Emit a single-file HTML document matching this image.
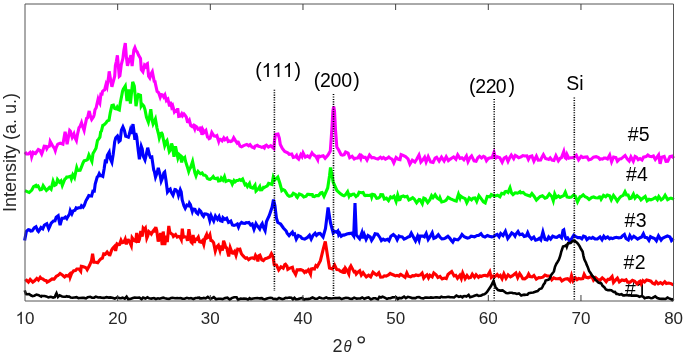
<!DOCTYPE html>
<html><head><meta charset="utf-8"><style>
html,body{margin:0;padding:0;background:#fff;}
body{width:685px;height:354px;overflow:hidden;}
svg{display:block;}
text{font-family:"Liberation Sans",sans-serif;}
svg{will-change:transform;}
</style></head><body>
<svg width="685" height="354" viewBox="0 0 685 354">
<rect width="685" height="354" fill="#fff"/>
<g font-size="19.5" fill="#000">
<path transform="translate(261.60,77.10) scale(0.009521,-0.009521)" d="M763 0H583V1147Q518 1085 412.5 1023Q307 961 223 930V1104Q374 1175 487 1276Q600 1377 647 1472H763Z" fill="#000"/>
<path transform="translate(272.10,77.10) scale(0.009521,-0.009521)" d="M763 0H583V1147Q518 1085 412.5 1023Q307 961 223 930V1104Q374 1175 487 1276Q600 1377 647 1472H763Z" fill="#000"/>
<path transform="translate(282.70,77.10) scale(0.009521,-0.009521)" d="M763 0H583V1147Q518 1085 412.5 1023Q307 961 223 930V1104Q374 1175 487 1276Q600 1377 647 1472H763Z" fill="#000"/>
<text x="255.30 294.60" y="77.1">()</text>
<text x="313.70 320.10 330.50 341.20 353.30" y="86.6">(200)</text>
<text x="468.90 475.30 485.70 495.80 508.60" y="93.3">(220)</text>
<text x="566.30 579.30" y="90.0">Si</text>
<text x="627.70 638.70" y="140.7">#5</text>
<text x="625.90 637.10" y="181.3">#4</text>
<text x="624.40 635.70" y="227.3">#3</text>
<text x="623.50 634.80" y="268.7">#2</text>
<path transform="translate(635.70,295.00) scale(0.009521,-0.009521)" d="M763 0H583V1147Q518 1085 412.5 1023Q307 961 223 930V1104Q374 1175 487 1276Q600 1377 647 1472H763Z" fill="#000"/>
<text x="624.90" y="295.0">#</text>
</g>
<path d="M25.0,152.0 L26.4,154.0 L28.3,153.9 L30.3,152.2 L31.0,153.1 L31.7,156.8 L33.2,152.3 L35.5,153.5 L36.9,151.5 L38.3,149.6 L40.0,150.5 L41.7,154.0 L42.6,151.5 L44.2,146.3 L46.0,146.5 L46.8,148.7 L47.9,146.8 L49.4,146.2 L50.2,141.4 L52.7,146.0 L54.4,148.2 L55.3,150.7 L56.2,147.6 L57.8,144.2 L60.3,143.1 L62.0,143.9 L62.9,144.2 L65.1,131.7 L66.2,137.5 L67.1,144.2 L69.7,130.4 L70.3,131.0 L72.2,137.3 L73.9,133.9 L74.7,137.1 L76.4,140.5 L77.4,134.7 L79.0,127.8 L80.0,126.5 L81.5,122.7 L82.3,125.6 L84.1,130.4 L84.8,126.6 L86.6,118.4 L87.5,118.0 L88.4,114.2 L89.2,111.0 L90.6,116.7 L91.7,119.5 L93.5,116.9 L94.2,114.6 L95.0,109.8 L96.2,107.7 L96.8,104.9 L98.1,99.2 L98.9,101.5 L99.8,103.2 L101.1,92.6 L101.8,95.4 L102.5,91.5 L103.5,90.5 L104.6,89.9 L106.0,84.5 L107.0,87.0 L108.5,77.6 L109.2,71.3 L110.6,79.8 L111.9,86.8 L112.6,84.1 L114.7,76.2 L115.4,65.6 L116.4,61.3 L117.4,55.3 L119.3,76.3 L119.9,75.8 L121.3,64.6 L122.0,61.8 L122.9,58.4 L123.8,50.7 L125.3,43.0 L126.4,57.3 L127.5,65.9 L128.3,62.9 L129.5,58.7 L130.3,57.5 L130.9,55.2 L132.1,66.2 L133.8,50.2 L134.9,47.6 L136.0,50.6 L137.2,51.9 L138.5,55.0 L140.5,58.5 L141.3,69.6 L142.9,71.7 L144.5,65.3 L145.6,66.6 L146.8,64.1 L147.4,63.7 L148.6,76.2 L149.8,78.0 L151.3,73.3 L152.3,71.6 L154.2,81.2 L155.0,81.4 L155.6,84.7 L157.1,91.4 L158.7,92.7 L160.2,97.2 L161.2,94.6 L162.4,94.8 L163.7,97.0 L164.9,95.0 L166.4,100.5 L167.9,99.1 L169.6,106.4 L170.5,101.9 L171.7,107.1 L172.7,105.6 L173.4,108.1 L174.4,111.9 L175.4,110.7 L177.1,111.4 L177.7,108.3 L178.7,116.3 L180.3,116.0 L181.7,113.8 L182.6,115.7 L184.0,113.9 L185.0,115.1 L186.3,117.2 L187.4,121.7 L188.1,121.8 L189.3,120.1 L190.7,125.5 L192.1,126.5 L193.3,125.5 L194.7,128.9 L195.4,126.1 L196.9,127.1 L198.0,129.2 L199.2,128.9 L200.0,130.1 L200.9,126.7 L201.9,134.9 L202.8,129.6 L204.2,132.3 L205.9,130.4 L207.5,137.0 L208.3,137.2 L209.1,138.7 L210.1,138.2 L211.8,132.5 L213.9,135.8 L215.9,136.3 L216.9,135.7 L218.7,141.3 L219.4,139.1 L220.3,139.2 L222.1,140.9 L223.8,138.0 L224.9,139.8 L226.9,138.2 L228.2,141.5 L229.4,141.0 L230.8,141.5 L232.2,140.9 L233.7,137.7 L235.3,140.4 L237.0,142.9 L237.7,142.0 L238.3,142.1 L240.0,146.1 L241.5,146.8 L243.2,145.8 L244.8,145.1 L246.8,144.5 L248.7,145.8 L250.1,144.7 L251.9,146.9 L254.2,148.0 L255.1,146.1 L257.3,145.2 L258.5,146.2 L259.7,146.4 L261.8,147.4 L263.0,146.9 L264.3,148.0 L265.2,145.8 L266.4,145.1 L268.4,147.0 L270.7,145.7 L272.0,146.9 L273.8,148.5 L274.6,140.0 L275.4,134.5 L278.0,134.0 L279.3,138.0 L280.3,144.5 L282.3,148.5 L284.7,151.5 L287.7,152.7 L289.2,154.4 L291.7,153.9 L293.3,157.4 L295.2,156.9 L296.5,155.4 L297.3,157.9 L298.7,159.2 L300.8,154.7 L302.0,156.6 L303.1,152.9 L305.3,157.1 L307.5,155.9 L309.6,157.5 L312.0,152.9 L313.0,154.3 L315.9,156.5 L317.7,159.8 L318.5,155.1 L319.2,157.2 L321.3,156.2 L323.2,155.8 L324.0,156.9 L325.1,158.3 L328.0,155.0 L330.3,151.0 L331.8,130.0 L332.9,111.0 L333.7,106.5 L334.5,111.0 L335.5,130.0 L336.8,147.0 L338.7,150.0 L341.1,154.8 L342.4,155.2 L344.2,154.6 L345.6,152.1 L348.1,153.2 L349.7,157.7 L352.1,156.2 L354.2,158.9 L355.2,158.3 L357.6,158.0 L359.3,155.6 L360.7,158.5 L361.5,155.5 L363.6,157.4 L365.3,157.3 L367.0,160.1 L369.5,155.0 L371.8,157.8 L373.7,157.5 L375.4,158.4 L377.9,159.0 L380.4,157.2 L381.9,158.6 L383.5,157.5 L385.4,159.2 L387.4,158.1 L388.8,157.0 L390.3,158.3 L392.0,159.1 L393.8,162.9 L396.1,157.5 L398.3,159.2 L400.0,159.6 L401.1,154.6 L403.1,155.4 L405.5,156.6 L408.0,158.9 L409.9,164.1 L412.3,160.2 L414.9,162.0 L416.7,159.3 L419.0,155.1 L420.0,158.4 L420.9,162.0 L422.5,160.3 L424.6,157.3 L426.1,162.0 L428.2,156.7 L430.6,161.9 L433.1,162.4 L435.1,158.0 L436.6,157.2 L439.1,161.0 L441.5,157.1 L444.1,160.9 L446.2,156.7 L448.4,160.6 L450.3,159.1 L451.9,158.0 L453.6,157.0 L455.9,159.2 L457.7,154.9 L460.0,158.4 L461.9,157.7 L463.9,159.8 L466.4,155.9 L468.0,161.7 L470.0,157.6 L471.6,155.9 L474.1,160.9 L476.1,161.3 L477.9,157.6 L479.5,156.2 L481.6,157.9 L483.5,156.4 L485.0,157.1 L486.5,160.8 L488.4,158.4 L490.4,157.8 L492.0,157.7 L494.0,152.5 L494.9,155.7 L496.0,157.8 L497.3,156.7 L499.8,157.7 L502.2,162.2 L504.1,158.2 L506.1,157.0 L508.0,161.4 L509.9,157.3 L511.3,155.1 L513.7,158.6 L515.3,155.4 L516.8,156.2 L518.7,157.8 L521.0,156.9 L522.9,155.6 L524.7,156.0 L526.9,155.9 L528.4,159.4 L530.0,156.5 L531.9,155.9 L533.9,161.2 L536.4,156.1 L538.2,160.2 L540.6,160.0 L542.0,157.1 L543.4,154.6 L545.5,158.4 L547.2,158.9 L548.7,159.5 L550.2,157.8 L552.0,160.1 L553.9,160.5 L555.9,155.7 L558.4,160.7 L560.2,158.3 L561.5,157.6 L563.8,151.4 L565.2,157.8 L566.0,158.4 L567.0,154.5 L568.8,158.2 L570.7,157.8 L572.1,157.8 L574.2,157.1 L576.3,155.3 L578.6,159.9 L581.2,156.4 L583.0,157.6 L585.2,157.1 L587.1,156.9 L588.8,159.9 L591.2,159.2 L593.5,157.2 L596.1,156.7 L598.5,157.6 L600.0,159.3 L601.0,158.8 L602.5,159.1 L603.9,158.0 L605.6,158.1 L607.5,159.0 L609.7,155.0 L611.6,161.8 L613.6,157.0 L615.9,157.5 L617.4,161.3 L619.6,159.0 L621.1,158.7 L622.8,157.4 L625.1,155.5 L627.3,159.0 L629.2,161.0 L630.9,156.8 L633.3,161.3 L635.1,156.4 L636.5,157.1 L638.2,159.6 L640.0,158.6 L642.0,160.0 L643.5,157.2 L646.1,156.6 L647.8,155.0 L649.5,156.3 L651.6,156.6 L653.4,155.9 L655.3,159.4 L656.8,157.5 L658.6,154.9 L660.1,163.8 L661.7,157.2 L664.2,156.4 L666.0,161.4 L667.7,161.2 L669.9,156.7 L672.4,156.1 L673.5,158.3" fill="none" stroke="#ff00ff" stroke-width="3.1" stroke-linejoin="miter" stroke-miterlimit="4"/>
<path d="M25.0,190.8 L26.7,191.4 L28.3,192.1 L29.2,192.5 L31.8,190.0 L33.6,186.6 L35.9,185.4 L36.5,186.5 L38.0,186.0 L40.1,189.8 L41.4,189.6 L42.0,189.1 L43.2,185.7 L45.1,188.6 L46.4,190.5 L48.1,188.9 L49.4,187.5 L51.1,189.2 L53.1,181.2 L54.7,185.3 L56.0,184.6 L56.7,182.8 L57.5,179.6 L59.5,182.2 L61.0,180.8 L62.3,185.4 L64.0,181.1 L65.0,178.8 L66.0,178.3 L66.7,177.1 L68.3,177.0 L70.5,176.2 L71.4,178.9 L72.8,174.8 L74.5,177.7 L76.7,167.6 L77.4,169.6 L78.4,170.5 L80.1,170.3 L81.4,167.2 L82.9,163.2 L84.1,160.9 L85.2,160.6 L86.2,160.2 L87.4,159.7 L88.9,155.0 L89.7,156.7 L91.9,161.4 L93.0,153.5 L94.2,151.5 L96.0,148.3 L97.5,140.4 L98.8,138.9 L99.9,137.1 L100.7,131.7 L101.4,131.1 L102.8,125.4 L103.9,124.9 L106.1,122.8 L107.1,121.2 L109.0,120.2 L110.3,112.6 L111.9,105.5 L113.4,105.1 L114.7,108.5 L115.9,108.8 L116.6,108.5 L117.2,107.3 L118.3,109.5 L119.3,110.0 L120.3,102.8 L121.9,94.7 L122.5,91.5 L123.3,89.1 L125.3,86.0 L126.0,91.4 L127.0,101.0 L128.7,89.5 L129.6,94.7 L130.4,103.5 L131.3,94.9 L132.7,81.9 L134.3,86.1 L135.3,96.9 L136.0,106.1 L136.9,101.3 L137.7,96.4 L138.4,94.5 L140.5,95.4 L141.2,105.9 L142.2,104.2 L143.8,106.0 L145.0,109.6 L146.5,117.2 L148.4,122.2 L149.5,117.3 L150.8,109.3 L152.2,120.4 L153.1,123.9 L155.4,118.9 L157.0,128.1 L158.6,134.3 L159.3,137.9 L160.8,133.5 L161.7,133.1 L162.3,134.1 L163.3,139.0 L164.7,145.7 L166.2,141.6 L167.0,140.6 L169.3,151.5 L171.0,148.9 L171.6,143.5 L172.3,145.5 L174.0,156.8 L174.7,150.7 L175.5,146.2 L176.4,150.7 L177.9,158.1 L179.2,154.5 L180.2,155.5 L181.7,162.5 L182.5,157.4 L184.0,158.8 L184.8,157.8 L185.5,161.2 L187.2,166.4 L188.7,171.5 L189.5,169.3 L190.7,167.3 L192.6,161.5 L194.9,172.9 L196.0,175.9 L197.0,173.1 L198.0,171.4 L199.7,173.2 L200.4,173.7 L202.1,172.9 L203.5,175.1 L205.1,175.2 L206.5,176.4 L207.3,178.4 L209.0,179.2 L210.1,179.3 L212.0,177.9 L213.2,176.5 L214.4,178.3 L215.9,178.6 L217.5,178.2 L218.5,181.0 L220.2,180.6 L221.3,177.9 L223.0,180.0 L224.5,176.7 L225.9,181.4 L227.2,180.9 L228.5,180.4 L231.1,181.3 L232.3,184.1 L234.0,180.5 L235.1,181.8 L236.6,180.5 L237.9,180.5 L239.5,179.6 L240.9,180.4 L242.6,179.0 L245.0,184.8 L246.1,184.1 L247.4,186.5 L249.5,183.4 L250.6,187.3 L252.8,188.1 L255.0,185.1 L256.0,191.1 L258.3,188.8 L259.7,186.6 L260.5,189.9 L261.9,189.8 L263.4,187.4 L264.0,187.7 L265.9,186.5 L267.3,185.8 L268.6,183.4 L269.9,183.8 L271.9,184.5 L273.3,177.0 L274.8,180.0 L277.8,177.0 L279.8,183.0 L281.8,190.5 L283.1,189.5 L284.7,190.4 L286.4,193.1 L287.7,195.2 L289.3,196.3 L291.7,195.7 L293.3,193.3 L295.7,194.6 L296.5,196.6 L297.3,197.4 L299.3,194.0 L302.0,195.1 L303.8,196.9 L306.1,196.2 L307.5,194.3 L308.5,194.4 L310.2,194.6 L312.3,194.5 L313.0,196.4 L314.4,196.7 L316.0,195.5 L318.5,195.6 L320.7,192.9 L322.1,192.5 L324.0,196.3 L327.7,188.0 L329.5,176.0 L330.5,167.5 L332.0,175.0 L333.2,182.2 L336.9,190.5 L340.5,193.8 L342.4,195.1 L344.0,195.7 L345.4,194.9 L347.6,191.7 L349.0,196.0 L349.7,194.5 L351.0,195.4 L352.6,194.3 L354.0,194.1 L356.0,196.6 L357.1,195.6 L357.7,195.3 L359.1,192.3 L361.4,192.7 L363.1,192.4 L364.4,195.2 L365.2,195.6 L367.0,195.3 L369.3,195.5 L371.1,194.8 L371.7,197.0 L372.6,194.4 L374.5,194.9 L376.7,198.4 L378.4,198.1 L380.0,196.9 L380.8,194.6 L382.7,194.7 L384.3,199.0 L386.4,198.2 L388.5,200.6 L390.6,196.9 L392.0,197.8 L394.0,196.2 L396.1,201.5 L397.7,195.0 L399.2,199.7 L400.0,199.6 L401.1,196.7 L403.3,196.0 L404.7,196.9 L407.1,196.3 L408.9,199.9 L410.6,199.1 L412.7,197.7 L414.2,199.0 L416.6,202.8 L419.1,199.5 L420.0,199.7 L422.3,203.7 L423.8,198.1 L425.3,198.8 L427.7,202.5 L429.9,199.6 L431.6,195.7 L433.0,197.6 L435.1,194.8 L437.1,197.9 L439.4,199.6 L440.0,197.9 L441.7,202.0 L444.1,201.4 L446.0,200.4 L448.1,197.3 L450.6,198.8 L452.5,199.7 L454.5,200.5 L456.3,201.1 L458.5,194.2 L460.0,198.0 L460.6,196.1 L462.9,197.7 L465.2,198.7 L466.8,202.8 L469.2,198.0 L471.5,199.9 L473.1,198.2 L474.9,197.9 L476.7,201.4 L478.9,195.6 L481.5,199.1 L483.4,201.8 L485.2,202.9 L487.2,196.5 L490.0,196.8 L491.3,194.6 L493.5,195.6 L495.3,195.9 L497.5,195.2 L499.9,196.8 L501.7,193.3 L504.0,193.9 L505.0,191.8 L506.1,191.5 L508.0,192.5 L510.0,187.8 L511.5,193.0 L513.0,194.6 L515.1,192.8 L517.4,193.1 L518.8,192.6 L520.0,191.7 L520.8,192.9 L523.2,192.5 L525.3,194.5 L527.6,195.3 L530.0,196.1 L531.9,193.5 L534.0,196.2 L536.4,200.1 L537.9,198.6 L540.1,196.5 L542.4,195.7 L545.0,198.2 L546.9,197.4 L549.3,193.9 L551.8,196.5 L553.3,200.8 L554.7,194.0 L556.3,197.5 L558.5,195.9 L560.1,197.3 L561.5,196.6 L563.7,195.6 L565.3,192.2 L567.0,196.9 L569.2,197.4 L571.3,197.1 L573.5,195.2 L575.3,196.1 L577.5,201.8 L580.0,196.7 L581.0,196.7 L583.2,194.8 L585.1,196.8 L587.1,197.6 L589.1,199.5 L591.7,197.5 L593.7,197.0 L595.4,197.7 L597.9,198.0 L599.4,196.8 L600.0,196.9 L601.1,199.3 L603.5,195.4 L605.7,196.7 L607.3,195.0 L609.6,195.8 L611.3,199.8 L613.5,195.4 L615.3,197.9 L617.3,201.1 L619.5,197.9 L620.9,196.5 L623.2,195.3 L625.0,191.8 L626.5,194.9 L628.1,195.0 L629.6,198.7 L631.2,198.2 L633.4,194.2 L635.0,198.1 L637.1,195.6 L640.0,198.2 L641.0,199.8 L642.8,198.3 L645.2,196.4 L647.1,200.8 L649.1,199.2 L650.9,199.9 L653.2,198.8 L655.5,197.4 L657.4,199.6 L658.8,196.5 L661.2,199.8 L662.9,198.7 L665.1,195.2 L667.6,199.6 L669.4,198.6 L670.9,198.1 L672.8,198.8 L673.5,199.5" fill="none" stroke="#00ff00" stroke-width="3.1" stroke-linejoin="miter" stroke-miterlimit="4"/>
<path d="M24.6,240.5 L26.4,231.3 L28.4,229.7 L29.6,229.9 L30.7,231.1 L32.2,230.8 L34.2,227.8 L36.0,226.7 L37.8,230.8 L38.5,231.5 L39.6,229.9 L41.0,227.5 L42.8,228.8 L44.3,225.2 L44.9,224.8 L46.8,223.7 L48.7,228.7 L49.6,226.8 L51.2,223.2 L53.5,220.9 L55.0,220.8 L56.2,217.3 L58.2,215.8 L59.0,220.2 L60.1,225.1 L62.0,218.2 L64.0,218.2 L65.4,217.1 L66.8,218.6 L67.9,216.6 L69.5,214.2 L70.3,210.6 L71.9,213.9 L73.2,210.9 L75.0,210.2 L76.1,207.9 L76.9,208.4 L78.6,207.7 L80.6,207.7 L81.5,205.7 L83.1,207.1 L84.2,205.5 L85.9,200.8 L87.9,197.4 L88.8,195.6 L89.9,195.8 L91.6,196.0 L92.9,191.1 L94.3,191.2 L95.2,184.1 L97.2,177.0 L98.2,176.0 L99.2,173.7 L100.3,175.6 L100.9,175.4 L102.8,176.4 L104.1,168.9 L105.5,159.6 L106.3,163.2 L107.4,155.3 L109.2,152.2 L110.1,158.2 L111.9,162.3 L113.2,154.4 L114.7,141.7 L115.8,137.8 L117.5,136.0 L118.3,137.7 L119.0,141.5 L120.2,140.4 L121.4,130.1 L122.9,126.8 L124.4,130.5 L125.7,136.2 L126.9,136.6 L128.4,137.2 L129.1,135.0 L130.3,130.4 L131.3,133.8 L133.0,124.1 L133.8,130.3 L134.9,139.9 L135.7,133.1 L136.7,136.9 L138.3,150.9 L139.4,159.2 L141.3,146.5 L142.2,148.9 L143.2,156.0 L145.0,160.0 L146.1,155.4 L147.7,147.7 L149.5,155.1 L150.4,157.2 L151.8,156.9 L153.7,169.9 L154.3,171.3 L155.5,177.1 L157.3,172.2 L158.3,167.8 L160.1,175.0 L161.2,181.1 L161.9,179.4 L162.7,177.3 L163.9,172.8 L164.7,172.0 L165.9,179.8 L167.5,192.0 L169.1,189.9 L170.2,189.1 L171.1,191.9 L173.0,195.2 L174.9,189.5 L175.7,189.7 L177.5,191.8 L178.5,195.5 L180.3,189.8 L181.2,191.9 L182.2,199.9 L183.1,202.9 L183.9,205.8 L185.2,208.3 L186.1,206.6 L186.8,205.2 L187.4,205.5 L188.8,205.9 L189.5,203.2 L190.4,204.6 L191.6,209.1 L192.3,211.4 L193.1,209.0 L195.0,209.4 L196.2,212.4 L197.8,213.9 L198.5,212.1 L199.4,210.0 L200.8,211.3 L202.3,214.9 L203.5,216.4 L204.7,213.9 L206.4,214.0 L208.3,214.9 L209.8,220.5 L211.1,215.7 L212.0,217.7 L213.7,221.0 L215.4,216.1 L217.5,219.3 L219.1,216.5 L220.5,220.7 L222.1,221.3 L223.0,217.6 L224.9,219.3 L226.7,218.3 L228.5,222.4 L229.7,221.8 L230.8,221.1 L232.4,225.0 L234.0,225.3 L235.9,224.9 L237.3,224.1 L238.5,227.1 L239.5,224.5 L241.5,222.4 L242.9,223.2 L245.0,223.4 L246.2,222.7 L247.6,222.8 L248.9,222.5 L250.6,224.9 L252.2,224.0 L254.0,229.3 L256.0,223.7 L257.1,225.5 L259.7,229.0 L261.1,225.1 L262.2,223.5 L263.1,226.6 L265.1,230.6 L266.5,221.5 L269.3,215.4 L272.1,207.0 L273.5,199.5 L274.9,205.5 L276.4,218.0 L277.8,222.5 L280.6,224.0 L283.4,228.0 L286.2,231.0 L287.1,233.3 L289.1,235.6 L290.3,234.3 L292.4,232.1 L293.3,234.5 L294.6,233.9 L296.3,239.1 L298.3,235.6 L300.7,236.7 L302.0,238.4 L304.7,239.0 L307.5,237.4 L309.5,235.3 L311.2,239.1 L313.0,235.3 L315.1,233.2 L316.5,235.4 L318.5,233.6 L320.1,233.4 L321.7,235.2 L323.1,237.0 L325.5,228.5 L328.1,207.4 L330.5,223.0 L333.2,233.0 L334.8,231.4 L336.4,232.1 L337.8,230.9 L338.7,234.9 L339.7,233.5 L341.2,236.2 L343.2,234.9 L344.2,235.2 L346.9,234.0 L348.8,233.6 L351.6,233.1 L353.7,236.0 L355.0,203.0 L356.3,235.0 L359.6,238.7 L361.8,232.9 L362.6,238.3 L364.1,234.2 L366.1,239.4 L368.0,235.6 L370.3,237.1 L371.6,240.3 L373.6,237.2 L375.1,233.8 L377.5,234.2 L380.0,237.7 L381.4,240.5 L383.2,239.1 L385.0,240.2 L387.5,239.2 L389.0,240.7 L390.9,236.2 L393.3,234.5 L395.8,236.8 L397.2,239.7 L399.0,236.0 L400.0,236.4 L402.2,236.8 L404.1,239.2 L405.7,238.5 L408.2,236.9 L409.7,236.5 L411.3,233.2 L413.5,237.2 L415.5,240.9 L417.6,236.1 L419.1,240.2 L420.0,236.1 L420.9,236.1 L422.9,236.0 L424.4,236.9 L426.2,233.4 L428.2,239.4 L430.2,236.4 L432.2,232.8 L433.8,238.4 L435.9,237.4 L438.3,234.7 L439.9,237.0 L441.9,238.9 L443.7,238.8 L445.3,238.1 L447.9,236.2 L449.7,238.1 L451.2,240.2 L452.8,242.0 L454.4,239.0 L456.0,239.5 L457.9,239.8 L460.0,237.8 L462.0,234.5 L464.2,236.8 L466.0,237.5 L467.6,238.2 L469.3,237.7 L471.2,236.1 L472.9,236.4 L474.6,236.9 L477.1,235.5 L478.6,235.5 L481.0,233.7 L482.9,236.3 L485.0,237.1 L487.4,235.5 L489.3,236.2 L491.8,236.8 L494.0,236.4 L495.7,235.1 L497.2,234.4 L499.1,236.9 L500.7,233.5 L503.0,235.5 L505.4,231.2 L507.8,238.4 L509.8,235.8 L511.7,232.9 L513.6,234.2 L515.0,236.1 L515.7,234.5 L518.0,231.6 L519.8,234.7 L522.3,234.1 L524.2,236.4 L526.3,235.9 L527.7,232.6 L529.4,236.5 L530.0,237.0 L531.5,239.0 L533.8,237.1 L535.6,240.2 L537.6,239.5 L539.3,238.3 L540.8,239.9 L542.9,232.0 L545.0,239.5 L547.1,240.0 L548.7,237.0 L550.6,239.0 L552.7,236.2 L555.2,237.2 L556.8,237.3 L559.2,235.7 L561.5,237.8 L563.0,230.5 L563.8,229.9 L565.1,236.7 L566.0,238.7 L567.6,237.8 L569.7,241.3 L571.6,238.6 L573.8,235.2 L575.7,236.5 L577.8,237.6 L580.0,237.6 L581.8,238.9 L583.5,236.2 L585.3,236.8 L586.9,239.6 L589.3,237.8 L591.3,238.4 L592.7,237.4 L595.0,238.9 L597.4,239.0 L600.0,236.9 L602.0,239.7 L603.8,236.2 L605.5,238.2 L607.7,236.9 L609.6,238.8 L611.0,238.0 L612.5,238.6 L614.5,237.8 L616.6,237.3 L618.6,237.9 L621.0,237.5 L622.5,235.9 L624.4,234.4 L626.0,238.5 L628.3,240.0 L629.9,235.6 L631.7,238.5 L633.8,236.3 L636.1,237.9 L637.6,239.2 L640.0,237.7 L641.6,237.1 L643.4,233.8 L644.9,237.3 L647.0,237.7 L648.9,240.3 L650.5,236.6 L652.6,237.8 L654.6,238.5 L656.4,240.7 L658.5,235.9 L661.1,240.0 L662.5,238.3 L664.8,237.2 L667.4,236.0 L669.9,236.9 L671.5,240.5 L673.5,238.6" fill="none" stroke="#0000ff" stroke-width="3.1" stroke-linejoin="miter" stroke-miterlimit="4"/>
<path d="M25.1,281.2 L26.6,280.2 L28.4,282.1 L30.2,279.5 L32.8,282.1 L34.6,280.8 L36.8,278.4 L38.4,280.0 L40.2,277.3 L41.2,278.5 L42.4,278.7 L44.6,280.3 L46.3,280.7 L47.1,282.2 L49.0,281.1 L52.1,278.9 L54.1,279.1 L56.3,276.2 L58.0,275.5 L60.1,273.5 L62.6,275.1 L63.8,276.3 L64.6,277.0 L66.2,275.5 L67.8,276.0 L69.6,274.2 L70.2,277.2 L71.7,273.3 L73.7,270.8 L75.5,270.6 L76.8,269.0 L79.1,269.0 L80.7,271.2 L81.3,266.3 L82.6,266.6 L84.7,267.2 L86.2,268.0 L87.2,269.7 L89.6,265.3 L91.5,260.7 L92.6,253.8 L93.9,262.2 L95.9,262.3 L97.7,262.8 L99.3,260.5 L100.9,258.9 L102.4,258.2 L103.7,253.9 L105.3,254.2 L107.1,252.0 L108.2,253.5 L109.2,254.8 L110.0,254.9 L111.7,250.0 L112.8,248.1 L114.5,246.4 L115.6,250.8 L117.1,243.9 L118.3,244.6 L119.5,244.5 L121.0,240.3 L122.2,242.7 L123.9,242.2 L125.2,239.2 L126.3,244.3 L127.5,240.2 L128.5,240.1 L129.8,242.3 L131.3,245.7 L132.1,237.8 L134.0,240.5 L135.7,241.3 L136.7,232.9 L138.3,242.5 L139.5,239.0 L140.8,231.0 L142.2,236.6 L143.2,228.2 L144.3,229.5 L145.4,228.1 L146.8,238.1 L147.7,235.9 L148.8,231.5 L149.8,232.3 L151.3,234.0 L152.7,231.6 L154.3,229.5 L155.0,232.5 L155.8,227.1 L156.7,230.4 L158.2,241.5 L159.5,237.8 L160.6,233.0 L162.2,245.0 L163.2,231.5 L164.8,245.1 L166.1,235.8 L167.3,242.0 L168.8,226.0 L169.8,232.3 L171.1,233.5 L172.6,234.6 L173.4,236.4 L175.6,234.5 L177.2,237.1 L178.9,236.4 L179.9,236.9 L181.3,239.7 L182.3,228.7 L183.4,237.1 L184.4,236.7 L186.5,237.2 L187.5,240.7 L188.9,229.3 L189.9,235.8 L191.1,241.9 L192.1,242.9 L193.1,234.9 L194.4,242.9 L195.4,239.0 L196.8,239.4 L198.3,237.2 L199.6,241.8 L201.0,242.2 L202.5,240.7 L203.8,244.5 L205.2,237.5 L206.6,234.6 L207.4,237.7 L208.9,236.8 L209.9,234.8 L210.9,240.4 L212.0,240.6 L213.6,242.7 L215.3,251.1 L216.6,247.1 L218.4,245.3 L220.0,250.6 L221.2,245.7 L222.4,250.5 L223.6,240.7 L224.7,243.7 L225.7,247.5 L226.7,247.9 L228.7,256.4 L230.2,247.6 L232.2,253.0 L232.9,253.2 L234.6,251.3 L236.0,255.5 L237.7,249.2 L238.8,249.5 L239.9,249.2 L241.4,253.8 L242.6,255.2 L244.1,256.9 L245.6,258.3 L246.9,257.8 L248.6,259.7 L250.5,258.2 L252.4,257.8 L254.3,258.7 L255.5,255.4 L257.1,258.0 L257.9,261.5 L258.8,255.7 L259.9,255.1 L261.8,259.9 L263.4,260.6 L265.0,258.8 L267.4,258.0 L269.7,257.0 L271.4,253.6 L273.1,257.0 L274.2,264.5 L276.5,265.0 L278.7,270.0 L281.0,266.8 L283.2,268.2 L284.8,264.6 L285.5,264.2 L287.0,266.2 L287.8,269.3 L288.9,268.6 L290.0,268.1 L292.4,267.2 L293.4,271.1 L294.2,272.0 L295.6,274.4 L297.1,269.9 L298.3,269.9 L300.7,269.6 L303.0,270.6 L304.5,272.5 L305.7,271.4 L306.3,271.9 L308.3,269.9 L310.5,274.2 L311.2,269.0 L312.7,268.7 L314.5,269.0 L315.9,265.5 L316.7,266.0 L317.3,266.5 L320.4,260.7 L323.1,249.7 L325.3,241.4 L327.7,257.0 L329.5,268.0 L332.4,268.9 L333.2,267.5 L334.6,265.0 L336.8,269.6 L338.7,269.7 L340.3,271.1 L341.9,271.8 L343.3,270.1 L344.2,273.6 L345.4,268.2 L346.8,270.1 L348.8,274.0 L349.7,268.0 L350.9,265.9 L352.2,268.4 L354.1,271.9 L355.2,271.5 L356.2,274.0 L357.6,272.4 L359.7,270.8 L361.3,275.1 L363.1,272.7 L364.4,274.5 L366.3,276.8 L368.6,275.2 L370.7,276.8 L373.0,272.3 L375.4,274.3 L376.6,275.0 L378.8,272.7 L380.6,277.2 L382.8,277.1 L384.3,275.8 L386.1,276.1 L388.5,275.0 L390.2,273.4 L391.8,274.3 L393.6,275.0 L395.5,275.9 L397.0,275.3 L399.0,276.1 L400.0,274.8 L400.7,274.4 L403.2,276.0 L405.1,277.3 L406.8,272.9 L408.3,276.2 L410.6,276.9 L412.6,275.6 L414.2,275.8 L415.9,275.0 L418.2,275.6 L420.2,275.0 L422.1,273.1 L423.7,278.0 L425.2,276.2 L427.0,274.8 L428.5,277.9 L429.9,275.2 L432.2,276.8 L433.8,272.9 L436.1,274.7 L437.9,277.5 L440.0,276.4 L442.2,278.9 L444.3,278.1 L446.3,278.7 L448.0,274.5 L449.4,273.3 L451.7,271.6 L454.1,275.9 L455.8,275.3 L457.5,278.3 L459.9,275.3 L461.3,278.5 L462.7,273.0 L465.1,278.7 L467.0,275.6 L468.8,278.0 L470.6,277.4 L472.3,274.2 L474.5,277.3 L476.1,274.7 L478.5,277.3 L480.0,275.9 L481.1,276.5 L483.4,275.5 L485.1,275.4 L487.4,276.0 L489.8,271.8 L491.3,277.6 L493.4,275.9 L495.0,276.4 L497.2,274.5 L498.8,276.6 L500.3,275.4 L502.1,278.8 L503.9,273.8 L506.0,278.3 L508.1,274.9 L510.4,276.9 L512.2,275.9 L513.7,274.8 L515.9,273.0 L517.7,277.7 L519.7,273.6 L521.2,275.8 L522.8,278.7 L524.7,278.8 L527.1,277.1 L528.6,274.0 L530.0,276.5 L532.1,276.9 L533.9,275.5 L536.3,279.2 L538.8,277.5 L540.5,277.7 L542.9,277.2 L545.0,275.1 L547.1,276.0 L549.7,276.0 L551.8,279.8 L553.7,277.9 L555.7,278.7 L558.3,278.8 L560.0,278.3 L561.9,281.0 L563.9,279.7 L565.5,278.9 L567.6,278.7 L570.0,281.0 L571.5,275.6 L573.1,280.9 L575.4,277.9 L577.0,279.6 L578.7,278.4 L580.8,279.0 L582.8,278.6 L584.2,274.4 L585.8,277.2 L588.1,277.8 L590.0,277.0 L591.7,276.2 L593.5,280.2 L595.7,277.7 L597.9,279.7 L600.0,280.2 L602.3,277.9 L604.3,279.5 L606.2,281.8 L607.9,279.4 L609.6,279.4 L612.1,276.6 L613.5,282.5 L615.7,279.9 L617.4,278.1 L619.3,281.9 L621.9,279.9 L624.4,280.6 L626.1,279.7 L627.6,282.1 L630.1,282.1 L632.4,280.3 L634.7,281.3 L637.1,284.0 L639.1,281.7 L640.0,281.2 L641.2,283.9 L642.9,280.6 L644.6,281.9 L646.6,279.9 L649.0,280.6 L650.9,281.2 L652.7,283.2 L654.7,284.1 L656.2,281.7 L658.2,283.8 L660.5,282.6 L662.5,284.0 L664.8,281.7 L666.4,283.5 L668.7,283.0 L671.1,283.6 L673.5,285.0" fill="none" stroke="#ff0000" stroke-width="3.1" stroke-linejoin="miter" stroke-miterlimit="4"/>
<path d="M24.7,290.4 L26.0,294.1 L26.8,294.3 L29.2,294.0 L30.8,295.3 L31.7,295.7 L32.4,296.1 L34.3,295.7 L36.5,294.6 L38.7,295.2 L41.2,296.6 L41.9,295.9 L42.6,296.0 L44.6,296.0 L46.3,296.4 L48.4,297.4 L49.8,297.1 L50.7,296.9 L51.6,297.0 L53.1,297.6 L54.8,297.1 L55.6,295.0 L56.5,293.2 L58.0,296.9 L59.6,295.4 L62.1,296.5 L63.9,296.7 L65.8,296.7 L66.7,296.2 L67.8,296.6 L69.2,296.5 L70.6,297.6 L72.4,297.8 L74.5,297.5 L76.6,297.2 L78.4,298.1 L79.9,298.0 L82.3,297.9 L84.1,297.9 L86.0,298.4 L87.8,297.2 L90.2,296.8 L92.0,297.7 L93.0,297.7 L94.1,297.7 L95.8,296.6 L98.1,297.5 L100.2,297.4 L101.7,297.8 L104.0,297.9 L106.4,297.2 L108.7,297.6 L110.3,297.4 L112.3,297.8 L114.8,298.6 L117.2,297.4 L120.0,298.3 L121.1,298.3 L122.6,297.6 L124.8,298.7 L126.6,296.7 L128.2,299.3 L130.3,298.9 L132.9,298.0 L134.6,297.6 L137.1,297.7 L139.4,297.5 L141.6,299.3 L143.1,297.5 L145.4,298.5 L147.4,297.3 L149.2,298.3 L151.3,298.6 L153.9,298.0 L155.9,299.0 L158.0,298.3 L159.6,298.7 L161.1,298.2 L163.2,297.7 L165.1,298.2 L166.9,298.6 L169.0,298.9 L171.1,298.0 L172.5,297.8 L175.0,298.2 L177.3,298.0 L178.7,298.3 L180.5,298.1 L182.3,298.6 L184.6,298.8 L186.9,297.8 L189.0,298.5 L190.9,298.1 L193.4,299.0 L195.5,298.0 L197.1,297.9 L199.4,297.7 L200.0,298.4 L201.8,298.4 L203.8,297.9 L205.7,298.4 L207.8,296.9 L209.8,298.5 L211.6,298.4 L213.8,297.2 L216.1,299.3 L218.3,298.7 L220.5,298.8 L222.5,299.1 L225.1,298.1 L227.4,297.7 L229.7,299.6 L231.7,298.1 L234.1,297.3 L236.6,297.3 L238.1,299.7 L240.6,298.5 L242.3,298.7 L243.9,298.6 L246.3,298.7 L247.9,299.7 L249.6,298.2 L251.0,299.1 L253.3,298.6 L255.0,298.2 L257.5,298.0 L259.5,298.4 L261.8,298.1 L263.3,299.1 L264.8,299.5 L266.4,298.8 L267.9,298.2 L270.3,297.7 L271.9,297.9 L273.4,299.0 L275.0,298.9 L276.8,299.3 L279.0,297.9 L280.6,298.5 L282.3,299.2 L283.9,298.7 L285.7,297.8 L287.4,298.0 L289.3,297.6 L291.4,297.7 L292.9,299.3 L294.5,297.8 L296.0,299.3 L298.0,299.1 L300.0,298.6 L302.3,298.0 L304.2,299.8 L305.9,299.0 L308.0,299.1 L310.5,298.4 L312.5,297.5 L315.0,298.7 L317.2,298.8 L319.3,297.5 L321.6,298.3 L324.0,298.5 L326.3,297.5 L328.1,298.4 L329.7,298.3 L331.3,298.5 L333.6,298.2 L335.3,298.0 L337.4,298.1 L339.5,297.9 L341.7,299.1 L343.4,298.4 L345.9,297.7 L348.2,298.0 L350.0,298.7 L352.0,298.9 L354.2,297.6 L356.6,298.6 L358.5,298.5 L360.4,298.4 L362.2,297.5 L364.3,298.8 L366.9,297.8 L368.6,297.4 L371.0,299.4 L373.4,298.3 L375.5,298.3 L377.9,299.4 L379.4,296.9 L380.9,297.5 L382.6,296.7 L384.7,297.6 L386.9,298.9 L388.5,298.2 L390.5,298.3 L392.7,297.4 L394.2,297.3 L396.3,297.3 L397.8,299.1 L399.3,297.9 L401.6,298.2 L404.1,296.6 L405.8,298.1 L407.9,296.8 L410.5,297.6 L412.0,298.1 L413.7,298.0 L415.6,298.1 L417.0,297.2 L419.0,297.1 L420.9,297.9 L423.3,298.4 L425.2,297.6 L426.7,297.6 L429.3,297.7 L430.9,297.4 L433.2,297.7 L435.8,297.2 L437.6,297.4 L440.0,297.6 L441.3,296.7 L442.7,297.3 L444.6,297.2 L446.0,297.2 L448.1,296.8 L450.0,297.1 L452.0,297.3 L454.1,297.5 L456.4,295.6 L458.9,296.9 L460.6,296.3 L462.5,297.4 L463.4,296.3 L465.0,296.1 L466.4,296.5 L468.6,294.9 L470.1,297.3 L472.4,296.6 L474.4,295.7 L476.9,294.9 L478.5,295.9 L480.0,295.8 L480.7,295.7 L483.0,294.5 L484.3,294.2 L485.8,293.3 L487.0,292.0 L491.0,286.0 L493.5,281.0 L495.5,287.0 L498.0,290.0 L500.3,290.6 L502.6,290.4 L504.5,291.7 L506.2,293.1 L507.9,293.2 L510.0,292.7 L512.0,292.8 L513.1,293.2 L515.0,293.2 L516.9,293.9 L518.9,293.4 L521.2,295.5 L522.6,295.0 L524.2,294.7 L525.0,294.9 L525.9,294.8 L527.4,294.8 L528.7,293.1 L531.1,292.8 L533.3,292.5 L536.0,291.6 L537.6,291.1 L539.5,289.1 L541.5,288.5 L542.5,286.8 L543.5,284.7 L544.9,282.8 L545.6,280.5 L547.4,279.9 L548.7,279.6 L549.8,278.4 L551.4,274.6 L553.1,272.5 L553.9,271.4 L555.0,266.8 L556.4,263.7 L557.2,262.5 L558.9,259.7 L560.2,256.0 L561.3,251.5 L563.0,246.5 L564.8,246.0 L566.2,245.1 L566.8,246.8 L568.1,243.1 L569.5,243.2 L570.8,242.8 L571.9,241.6 L573.6,240.7 L574.9,240.8 L576.1,242.1 L577.1,242.8 L578.5,244.5 L579.7,246.4 L581.0,249.0 L582.6,251.6 L583.5,256.1 L584.3,259.4 L586.1,263.0 L586.7,264.8 L587.7,266.9 L589.2,271.2 L590.4,272.8 L592.5,276.1 L593.8,277.2 L595.6,280.1 L596.6,280.8 L598.5,282.6 L600.1,283.1 L600.7,283.0 L601.4,283.6 L602.6,285.8 L604.3,287.2 L605.9,289.4 L607.9,290.2 L609.4,290.1 L611.3,290.3 L613.6,292.0 L614.9,291.9 L616.4,293.9 L617.2,293.9 L619.4,294.7 L621.5,294.2 L623.1,295.4 L624.5,295.4 L626.8,295.0 L628.4,295.4 L629.2,295.2 L631.7,295.6 L634.1,295.6 L636.3,295.5 L638.0,295.9 L639.4,296.8 L640.5,296.4 L641.5,296.1 L643.2,296.7 L644.6,298.2 L646.8,297.6 L648.8,297.4 L651.0,298.2 L652.5,297.9 L655.2,296.4 L657.3,298.1 L659.3,298.6 L661.6,298.9 L663.5,298.9 L665.5,299.0 L667.5,297.6 L669.1,298.4 L670.7,298.9 L672.2,300.0 L673.5,298.8" fill="none" stroke="#000000" stroke-width="2.6" stroke-linejoin="miter" stroke-miterlimit="4"/>
<g stroke="#000" stroke-width="1.6" stroke-dasharray="1.1 1.35">
<line x1="274.4" y1="89.7" x2="274.4" y2="291"/>
<line x1="333.5" y1="94" x2="333.5" y2="296"/>
<line x1="494.2" y1="99" x2="494.2" y2="300.5"/>
<line x1="574.3" y1="97.5" x2="574.3" y2="300"/>
</g>
<g fill="none" stroke="#404040" stroke-width="1">
<path d="M25.0,301.0 L25.0,4.0 L673.5,4.0 L673.5,301.0 Z" stroke="#555"/>
<line x1="117.66" y1="301.0" x2="117.66" y2="295.0"/>
<line x1="117.66" y1="4.0" x2="117.66" y2="10.0"/>
<line x1="210.32" y1="301.0" x2="210.32" y2="295.0"/>
<line x1="210.32" y1="4.0" x2="210.32" y2="10.0"/>
<line x1="302.98" y1="301.0" x2="302.98" y2="295.0"/>
<line x1="302.98" y1="4.0" x2="302.98" y2="10.0"/>
<line x1="395.64" y1="301.0" x2="395.64" y2="295.0"/>
<line x1="395.64" y1="4.0" x2="395.64" y2="10.0"/>
<line x1="488.30" y1="301.0" x2="488.30" y2="295.0"/>
<line x1="488.30" y1="4.0" x2="488.30" y2="10.0"/>
<line x1="580.96" y1="301.0" x2="580.96" y2="295.0"/>
<line x1="580.96" y1="4.0" x2="580.96" y2="10.0"/>
</g>
<g font-size="17" fill="#262626">
<path transform="translate(15.55,324.00) scale(0.008301,-0.008301)" d="M763 0H583V1147Q518 1085 412.5 1023Q307 961 223 930V1104Q374 1175 487 1276Q600 1377 647 1472H763Z" fill="#262626"/>
<text x="25.00" y="324">0</text>
<text x="108.21" y="324">20</text>
<text x="200.87" y="324">30</text>
<text x="293.53" y="324">40</text>
<text x="386.19" y="324">50</text>
<text x="478.85" y="324">60</text>
<text x="571.51" y="324">70</text>
<text x="664.17" y="324">80</text>
<text x="332.6" y="352" font-size="18">2</text><text transform="translate(343.6,352) scale(0.9,1)" font-size="16.5" font-style="italic">θ</text><ellipse cx="361.25" cy="339.85" rx="3.1" ry="3.0" fill="none" stroke="#262626" stroke-width="1.35"/>
<text transform="translate(15.6,212.1) rotate(-90)" font-size="18">Intensity (a. u.)</text>
</g>
</svg>
</body></html>
